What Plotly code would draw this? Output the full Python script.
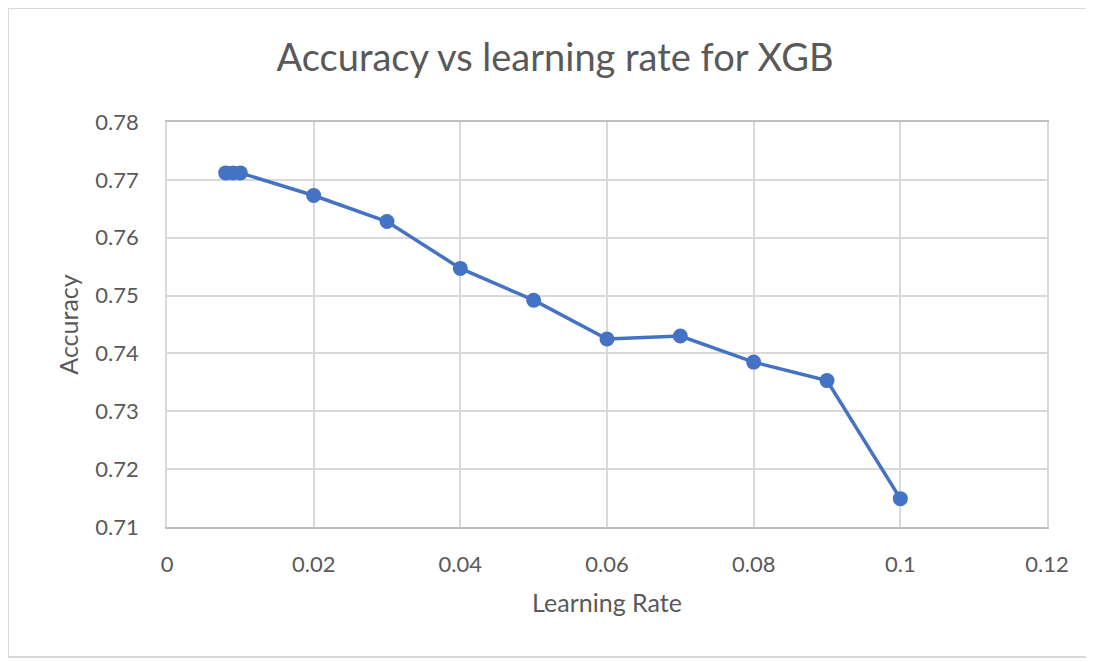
import plotly.graph_objects as go

# learning rate vs accuracy
learning_rate = [0.008, 0.009, 0.01, 0.02, 0.03, 0.04, 0.05, 0.06, 0.07, 0.08, 0.09, 0.1]
accuracy = [0.7712, 0.7712, 0.7712, 0.7673, 0.7628, 0.7547, 0.7492, 0.7425, 0.7430, 0.7385, 0.7353, 0.7149]

x_ticks = [0, 0.02, 0.04, 0.06, 0.08, 0.1, 0.12]
x_labels = ["0", "0.02", "0.04", "0.06", "0.08", "0.1", "0.12"]
y_ticks = [0.71, 0.72, 0.73, 0.74, 0.75, 0.76, 0.77, 0.78]
y_labels = ["0.71", "0.72", "0.73", "0.74", "0.75", "0.76", "0.77", "0.78"]

FONT = "Lato, 'Open Sans', sans-serif"
GREY = "#595959"
GRID = "#d9d9d9"

fig = go.Figure(
    go.Scatter(
        x=learning_rate,
        y=accuracy,
        mode="lines+markers",
        line=dict(color="#4472c4", width=3.5),
        marker=dict(color="#4472c4", size=15),
        showlegend=False,
    )
)

fig.update_xaxes(
    range=[0, 0.12],
    tickvals=x_ticks,
    ticktext=x_labels,
    showgrid=True,
    gridcolor=GRID,
    gridwidth=1.5,
    zeroline=False,
    showline=True,
    linecolor="#bfbfbf",
    linewidth=1.5,
    mirror=True,
    ticks="",
    ticklabelstandoff=17,
    tickfont=dict(size=22, color=GREY, family=FONT),
    title=dict(text="Learning Rate", font=dict(size=25, color=GREY, family=FONT), standoff=18),
)
fig.update_yaxes(
    range=[0.71, 0.78],
    tickvals=y_ticks,
    ticktext=y_labels,
    showgrid=True,
    gridcolor=GRID,
    gridwidth=1.5,
    zeroline=False,
    showline=True,
    linecolor=GRID,
    linewidth=1.5,
    mirror=True,
    ticks="",
    ticklabelstandoff=22,
    tickfont=dict(size=22, color=GREY, family=FONT),
    title=dict(text="Accuracy", font=dict(size=25, color=GREY, family=FONT), standoff=10),
)

# page body has an 8px margin, so margins below are shifted by 8px
fig.add_shape(
    type="rect", xref="paper", yref="paper",
    x0=(8 - 167) / 880, x1=(1087 - 167) / 880,
    y0=(527 - 657) / 405, y1=(527 - 8) / 405,
    line=dict(color="#d9d9d9", width=2),
    layer="below",
)

fig.update_layout(
    width=1094,
    height=662,
    title=dict(
        text="Accuracy vs learning rate for XGB",
        x=0.5, xanchor="center",
        y=1 - 50 / 662, yanchor="middle",
        font=dict(size=38, color=GREY, family=FONT),
    ),
    margin=dict(l=159, r=55, t=114, b=143),
    plot_bgcolor="white",
    paper_bgcolor="white",
)

fig.write_html("out.html")
